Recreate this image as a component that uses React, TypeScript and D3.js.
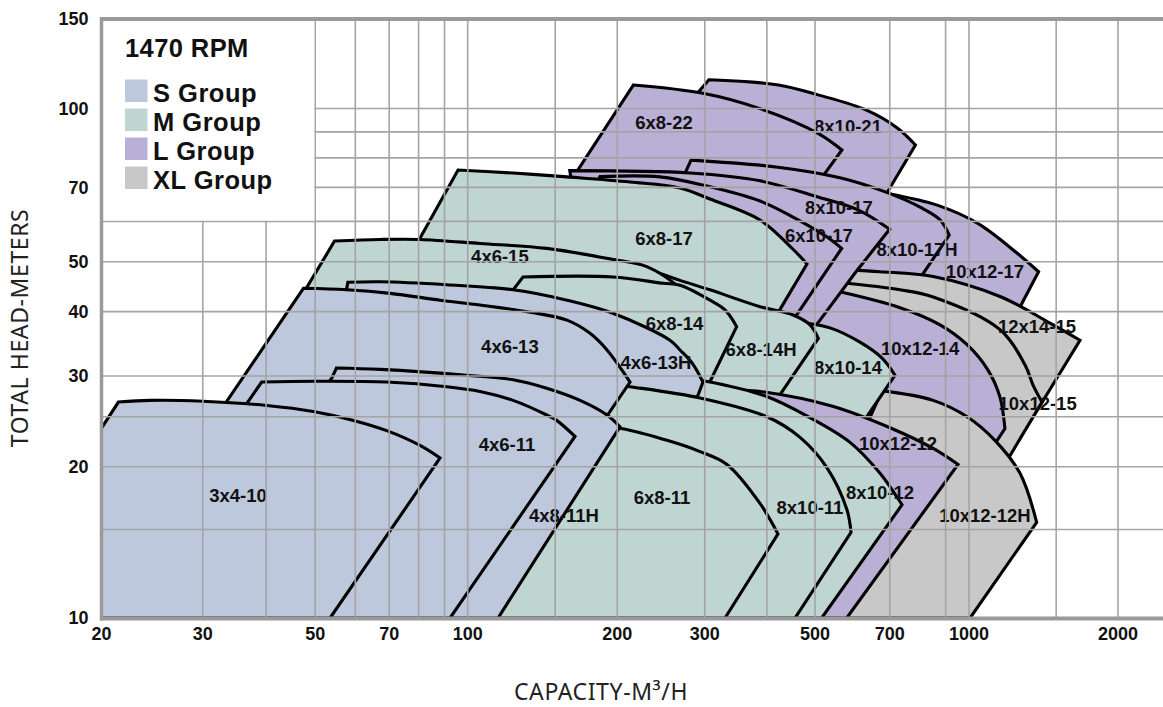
import React from 'react';
import * as d3 from 'd3';

type P = [number, number];

// ---------- data ----------
const speedTitle = '1470 RPM';
const groupNames = ['S Group', 'M Group', 'L Group', 'XL Group'];
const groupColors = ['#bec8dc', '#bfd5d2', '#baafd5', '#c8c8c8'];

const xTicks = [20, 30, 50, 70, 100, 200, 300, 500, 700, 1000, 2000];
const yTicks = [10, 20, 30, 40, 50, 70, 100, 150];
const xGrid = [30, 40, 50, 60, 70, 80, 90, 100, 150, 200, 300, 400, 500, 700, 900, 1000, 1500, 2000];
const yGrid = [15, 20, 25, 30, 40, 50, 60, 70, 80, 90, 100];

const xTitle = 'CAPACITY-M³/H';
const yTitle = 'TOTAL HEAD-METERS';

// pump coverage envelopes, listed back to front
const names = [
  '8x10-21', '6x8-22', '10x12-17', '8x10-17H', '12x14-15', '10x12-15', '10x12-14', '10x12-12H',
  '8x10-17', '6x10-17', '6x8-17', '8x10-14', '6x8-14H', '4x6-15', '6x8-14', '10x12-12',
  '8x10-12', '4x6-13H', '8x10-11', '6x8-11', '4x6-13', '4x8-11H', '4x6-11', '3x4-10',
];
const groups = [2, 2, 2, 2, 3, 3, 2, 3, 2, 2, 1, 1, 1, 1, 1, 2, 1, 0, 1, 1, 0, 0, 0, 0];

// left (straight) edge, from the bottom up to the top-left corner
const feet: P[][] = [
  [[36.8, 10], [291.9, 108.0]],
  [[43.6, 10]],
  [[232.8, 10], [425.1, 52.7]],
  [[108, 10], [273.7, 74.6]],
  [[232.8, 10], [425.1, 52.7]],
  [[232.8, 10], [425.1, 52.7]],
  [[232.8, 10], [425.1, 52.7]],
  [[425.1, 10]],
  [[92.3, 10], [161.2, 73.5]],
  [[67, 10]],
  [[30.7, 10]],
  [[232.8, 10]],
  [[46.6, 10]],
  [[20.6, 10]],
  [[39.1, 10]],
  [[232.8, 10]],
  [[153.4, 10]],
  [[32.6, 10], [32.6, 19.7], [57.7, 44.3]],
  [[127.4, 10]],
  [[105.9, 10]],
  [[27.4, 10], [27.4, 19.7]],
  [[40, 10], [40.1, 19.7], [53.9, 29.7]],
  [[30, 10], [30, 20]],
  [[18.35, 10], [18.35, 20.5]],
];

// maximum-impeller head curve, from the top-left corner to the tip
const tops: P[][] = [
  [[305.8, 113.9], [422, 111.3], [506.8, 106.4], [629, 99.4], [725.2, 91.5], [785.8, 84.8]],
  [[215.6, 111.3], [297.5, 107.2], [384.8, 100.2], [506.8, 89.4], [564.4, 82.9]],
  [[559.4, 70.4], [688.3, 68.2], [866.3, 64.6], [1038, 59.6], [1250, 52.0], [1382, 47.8]],
  [[281.5, 79.2], [421.2, 76.7], [559.4, 73.1], [688.3, 68.5], [802.4, 64.0], [878, 60.4], [914.7, 56.4]],
  [[585.4, 48.2], [670, 47.8], [850.9, 46.8], [1155, 42.8], [1458, 38.0], [1676, 35.2]],
  [[564.4, 45.5], [733, 44.1], [850.9, 42.7], [1155, 36.9], [1298, 31.5], [1347, 28.8], [1404, 26.7]],
  [[559.4, 43.7], [733, 40.7], [878, 37.7], [991.4, 34.5], [1092.4, 30.8], [1155, 27.3], [1182, 23.7]],
  [[676.1, 28.1], [850.9, 26.9], [991.4, 25.0], [1128, 22.5], [1268, 19.4], [1370, 15.5]],
  [[160.5, 75.5], [280.1, 74.7], [387.5, 72.1], [506.8, 67.0], [606.8, 63.2], [699.5, 57.9]],
  [[184.6, 73.5], [243.8, 73.4], [303.0, 70.4], [387.5, 65.8], [451.6, 61.2], [527.8, 55.9], [563.7, 53.1]],
  [[95.7, 75.7], [123.4, 74.7], [158.4, 73.4], [212.2, 71.7], [267.5, 69.8], [307.3, 66.4], [387.5, 60.4], [451.6, 52.9], [481.8, 49.5]],
  [[387.5, 39.2], [466.5, 38.2], [535, 37.2], [612.2, 34.9], [676.1, 32.5], [716.7, 30.1]],
  [[105.9, 53.2], [153.4, 51.8], [199.7, 50.3], [232.8, 48.2], [267.5, 46.0], [307.3, 44.1], [387.5, 40.9], [451.6, 39.4], [488.5, 37.7], [507.5, 35.5]],
  [[54.6, 54.9], [67.1, 55.3], [80.5, 55.3], [105.9, 54.3], [144.2, 53.1], [196.0, 50.5], [229.3, 48.9], [267.5, 44.4], [314.6, 36.9]],
  [[129.2, 46.7], [196, 46.7], [247.2, 45.4], [267.5, 45.0], [307.3, 42.1], [329.5, 40.3], [347.8, 37.4]],
  [[337.2, 28.2], [398.4, 27.9], [541.3, 26.2], [700.8, 23.8], [850.9, 21.7], [951.9, 20.2]],
  [[222.3, 30.5], [301.7, 29.3], [398.4, 27.4], [488.5, 24.9], [585.4, 22.3], [670, 19.4], [739.7, 16.8]],
  [[58.0, 45.6], [67.1, 45.7], [90.9, 45.1], [123.4, 44.1], [158.4, 42.1], [196.0, 39.7], [255.3, 35.2], [267.5, 33.7], [282.8, 31.8], [297.5, 29.2]],
  [[184.6, 29.1], [212.2, 28.6], [293.4, 27.2], [400.3, 25.0], [466.5, 22.8], [527.8, 19.9], [577.5, 16.4], [588, 14.8]],
  [[153.4, 24.1], [199.7, 23.8], [251.8, 22.5], [293.4, 21.4], [332.5, 20.2], [387.5, 16.9], [421.2, 14.7]],
  [[47.4, 44.4], [57.7, 44.1], [70.3, 43.4], [88.2, 42.1], [105.9, 41.2], [133.5, 39.9], [158.4, 38.5], [176.3, 36.3], [190.7, 33.7], [212.2, 29.2]],
  [[55.1, 31.1], [67.1, 30.9], [99.5, 30.1], [123.4, 29.5], [144.2, 28.4], [168.3, 26.9], [190.7, 25.2], [202.5, 23.9]],
  [[39.2, 29.2], [49.6, 29.3], [69.2, 29.2], [90.9, 28.6], [105.9, 28.0], [123.4, 26.9], [144.2, 25.2], [151, 24.6], [164.4, 22.9]],
  [[21.4, 26.7], [24.3, 26.9], [30, 26.8], [40.1, 26.3], [49.6, 25.6], [59.5, 24.6], [69.2, 23.5], [80.5, 22.0], [88.2, 20.8]],
];

// right (straight) edge, from the tip down to the bottom
const drops: P[][] = [
  [[693.3, 68.6], [216.2, 10]],
  [[525.4, 75.1], [114.5, 10]],
  [[1296, 42.5], [607, 10]],
  [[814.6, 47.5], [284, 10]],
  [[1199, 20.8], [771, 10]],
  [[1188, 20.4], [771, 10]],
  [[670, 10]],
  [[1005, 10]],
  [[601.3, 47.8], [511.4, 38.5], [177, 10]],
  [[466.5, 40.3], [178, 10]],
  [[428.4, 40.9], [184.5, 10]],
  [[655.1, 26.4], [337, 10]],
  [[431.6, 28.2], [211, 10]],
  [[126.8, 10]],
  [[309.7, 29.7], [181, 10]],
  [[576.7, 10]],
  [[515.2, 10]],
  [[291.1, 27.6], [140, 10]],
  [[455.8, 10]],
  [[329.5, 10]],
  [[100.8, 10]],
  [[115.1, 10]],
  [[92.3, 10]],
  [[53.5, 10]],
];

// label anchors (capacity, head)
const labelAt: P[] = [
  [580.1, 92.0], [248.3, 93.7], [1077, 47.8], [791.5, 52.9], [1372, 37.5], [1376, 26.5],
  [802.4, 33.9], [1077, 16.0], [556.8, 64.0], [509, 56.2], [248.3, 55.6], [580.1, 31.1],
  [389.4, 33.7], [116.1, 51.3], [260.8, 38.0], [726.5, 22.2], [670, 17.8], [239.3, 31.9],
  [488.5, 16.6], [246.0, 17.4], [121.6, 34.2], [156.2, 16.0], [120, 22.1], [35.2, 17.5],
];

// ---------- chart ----------
export default function App() {
  const W = 1163;
  const Hh = 707;
  const x = d3.scaleLog()
    .domain([20, 30, 100, 500, 1000, 2000, 2466])
    .range([101.5, 202.8, 467.7, 815, 969, 1118, 1163]);
  const y = d3.scaleLog()
    .domain([10, 20, 50, 150])
    .range([618, 466.7, 261.7, 19]);

  const x0 = x(20);
  const x1 = W;
  const y0 = y(150);
  const y1 = y(10);

  const lin = d3.line<P>().x(d => x(d[0])).y(d => y(d[1]));
  const crv = d3.line<P>().x(d => x(d[0])).y(d => y(d[1])).curve(d3.curveCatmullRom.alpha(0.5));

  const pathFor = (i: number) => {
    const a = lin([...feet[i], tops[i][0]]) || '';
    const b = (crv(tops[i]) || '').replace(/^M[^A-Za-z]*/, '');
    const c = drops[i].map(p => `L${x(p[0])},${y(p[1])}`).join('');
    return a + b + c + 'Z';
  };

  const boldFont = '"Liberation Sans", Arial, Helvetica, sans-serif';
  const titleFont = '"Noto Sans", "Open Sans", sans-serif';
  const gridColor = '#a4a4a4';
  const frameColor = '#9a9a9a';

  return (
    <div>
      <style>{`body{margin:0;}`}</style>
      <svg width={W} height={Hh} style={{ display: 'block', background: '#ffffff' }}>
        <defs>
          <clipPath id="plotClip">
            <rect x={x0} y={y0} width={x1 - x0} height={y1 - y0} />
          </clipPath>
        </defs>

        <g clipPath="url(#plotClip)">
          {names.map((n, i) => (
            <path
              key={n}
              d={pathFor(i)}
              fill={groupColors[groups[i]]}
              stroke="#000"
              strokeWidth={3.1}
              strokeLinejoin="miter"
              strokeMiterlimit={12}
            />
          ))}
          {names.map((n, i) => (
            <text
              key={'t' + n}
              x={x(labelAt[i][0])}
              y={y(labelAt[i][1])}
              dy="0.35em"
              textAnchor="middle"
              fontFamily={boldFont}
              fontWeight="bold"
              fontSize={18.5}
              fill="#111"
            >
              {n}
            </text>
          ))}
          {xGrid.map(v => (
            <line key={'gx' + v} x1={x(v)} x2={x(v)} y1={y0} y2={y1} stroke={gridColor} strokeWidth={1.6} />
          ))}
          {yGrid.map(v => (
            <line key={'gy' + v} x1={x0} x2={x1} y1={y(v)} y2={y(v)} stroke={gridColor} strokeWidth={1.6} />
          ))}
        </g>

        {/* legend */}
        <rect x={x0 + 1.5} y={y0 + 2} width={x(50) - x0 - 2.4} height={y(60) - y0 - 2.8} fill="#fff" />
        <text x={125} y={57} fontFamily={boldFont} fontWeight="bold" fontSize={25.5} letterSpacing={0.4} fill="#111">
          {speedTitle}
        </text>
        {groupNames.map((g, i) => (
          <g key={g}>
            <rect x={125} y={79.5 + i * 29} width={22.5} height={22.5} fill={groupColors[i]} />
            <text x={153} y={102 + i * 29} fontFamily={boldFont} fontWeight="bold" fontSize={25.5} letterSpacing={0.5} fill="#111">
              {g}
            </text>
          </g>
        ))}

        {/* frame */}
        <line x1={x0 - 1.5} x2={x1} y1={y0} y2={y0} stroke={frameColor} strokeWidth={4} />
        <line x1={x0 - 1.5} x2={x1} y1={y1 + 0.5} y2={y1 + 0.5} stroke={frameColor} strokeWidth={4} />
        <line x1={x0} x2={x0} y1={y0 - 2} y2={y1 + 2.5} stroke={frameColor} strokeWidth={3.5} />

        {/* tick labels */}
        {xTicks.map(v => (
          <text key={'xt' + v} x={x(v)} y={640} textAnchor="middle" fontFamily={boldFont} fontWeight="bold" fontSize={18} fill="#111">
            {v}
          </text>
        ))}
        {yTicks.map(v => (
          <text key={'yt' + v} x={88.5} y={y(v)} dy="0.35em" textAnchor="end" fontFamily={boldFont} fontWeight="bold" fontSize={18} fill="#111">
            {v}
          </text>
        ))}

        {/* axis titles */}
        <text x={601} y={700} textAnchor="middle" fontFamily={titleFont} fontSize={23} letterSpacing={0.6} fill="#222">
          {xTitle}
        </text>
        <text transform="translate(20,328) rotate(-90)" dy="0.35em" textAnchor="middle" fontFamily={titleFont} fontSize={23} letterSpacing={0.6} fill="#222">
          {yTitle}
        </text>
      </svg>
    </div>
  );
}
